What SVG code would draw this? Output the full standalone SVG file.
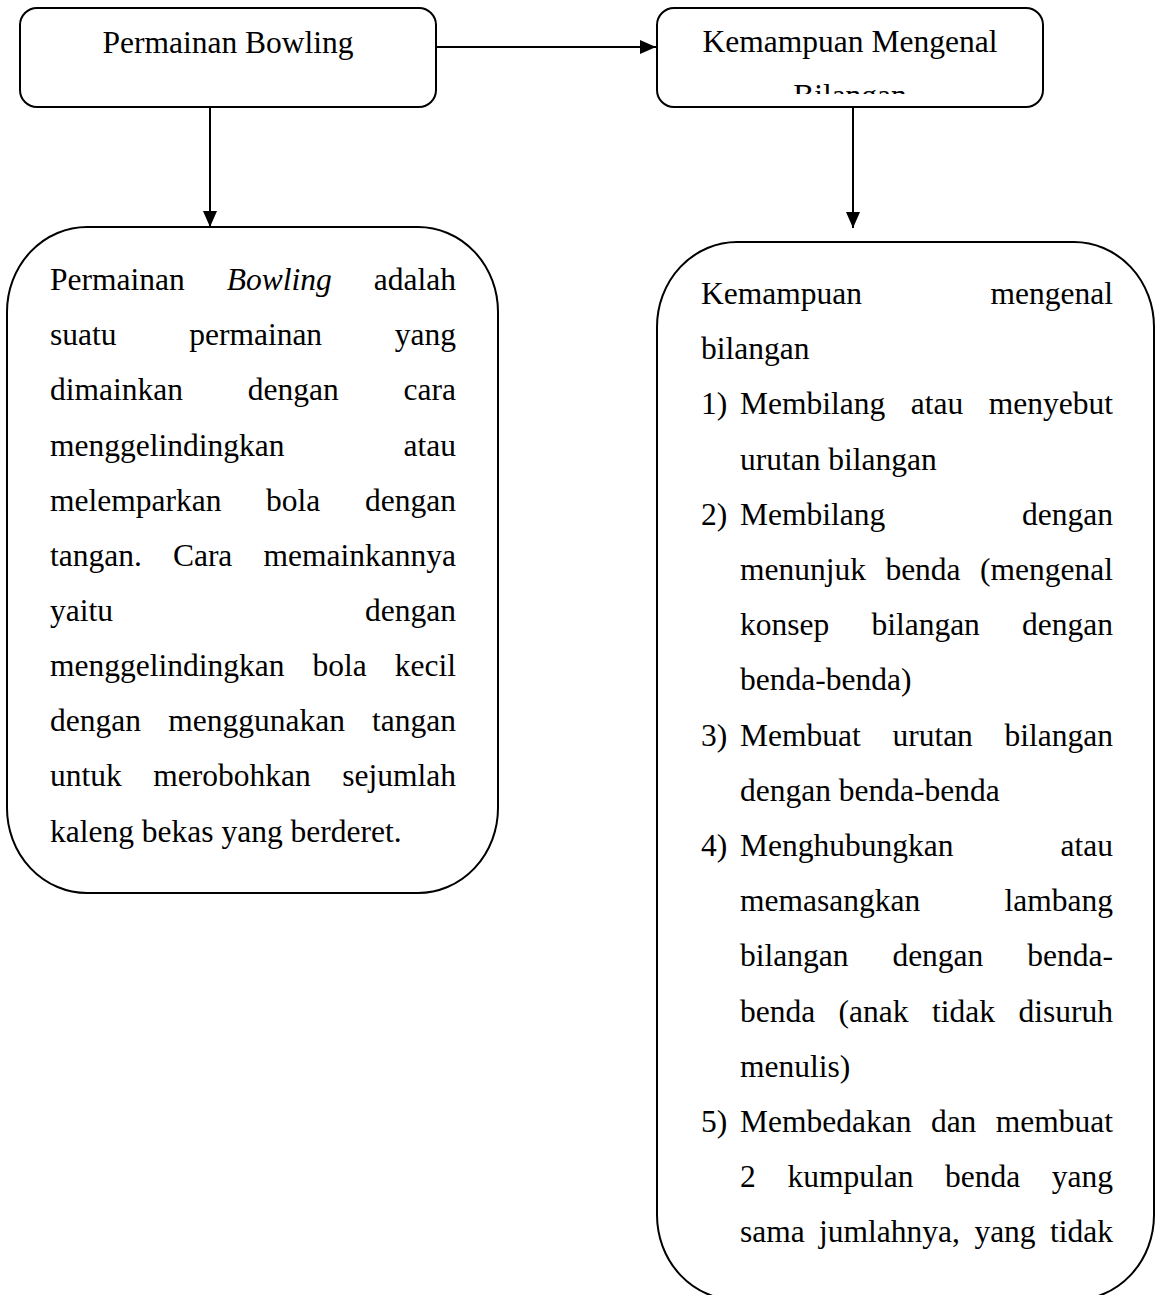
<svg xmlns="http://www.w3.org/2000/svg" width="1156" height="1295" viewBox="0 0 1156 1295">
<style>
.box{fill:#fff;stroke:#000;stroke-width:2}
.t{font-family:"Liberation Serif","Times New Roman",serif;font-size:31.5px;fill:#000}
.e{text-anchor:end}
.m{text-anchor:middle}
.conn{stroke:#000;stroke-width:2;fill:none}
</style>
<defs>
<marker id="ah" markerWidth="16" markerHeight="14" refX="16" refY="7" orient="auto" markerUnits="userSpaceOnUse">
<path d="M0,0 L16,7 L0,14 Z" fill="#000"/>
</marker>
<clipPath id="clipB"><rect x="657" y="8" width="386" height="86"/></clipPath>
</defs>
<rect width="1156" height="1295" fill="#fff"/>

<g id="connectors">
<line class="conn" x1="437" y1="47" x2="656" y2="47" marker-end="url(#ah)"/>
<line class="conn" x1="210" y1="108" x2="210" y2="227" marker-end="url(#ah)"/>
<line class="conn" x1="853" y1="108" x2="853" y2="228" marker-end="url(#ah)"/>
</g>

<g id="node-permainan-bowling">
<rect class="box" x="20" y="8" width="416" height="99" rx="17" ry="17"/>
<text class="t m" x="228" y="53">Permainan Bowling</text>
</g>

<g id="node-kemampuan-mengenal">
<rect class="box" x="657" y="8" width="386" height="99" rx="17" ry="17"/>
<text class="t m" x="850" y="52">Kemampuan Mengenal</text>
<text class="t m" x="850" y="106" clip-path="url(#clipB)">Bilangan</text>
</g>

<g id="node-bowling-desc">
<rect class="box" x="7" y="227" width="491" height="666" rx="80" ry="85"/>
<text class="t" x="50" y="290">Permainan</text><text class="t" x="226.7" y="290" font-style="italic">Bowling</text><text class="t e" x="456" y="290">adalah</text>
<text class="t" x="50" y="345">suatu</text><text class="t" x="189.2" y="345">permainan</text><text class="t e" x="456" y="345">yang</text>
<text class="t" x="50" y="400">dimainkan</text><text class="t" x="247.8" y="400">dengan</text><text class="t e" x="456" y="400">cara</text>
<text class="t" x="50" y="456">menggelindingkan</text><text class="t e" x="456" y="456">atau</text>
<text class="t" x="50" y="511">melemparkan</text><text class="t" x="266.1" y="511">bola</text><text class="t e" x="456" y="511">dengan</text>
<text class="t" x="50" y="566">tangan.</text><text class="t" x="172.9" y="566">Cara</text><text class="t e" x="456" y="566">memainkannya</text>
<text class="t" x="50" y="621">yaitu</text><text class="t e" x="456" y="621">dengan</text>
<text class="t" x="50" y="676">menggelindingkan</text><text class="t" x="312.5" y="676">bola</text><text class="t e" x="456" y="676">kecil</text>
<text class="t" x="50" y="731">dengan</text><text class="t" x="168.2" y="731">menggunakan</text><text class="t e" x="456" y="731">tangan</text>
<text class="t" x="50" y="786">untuk</text><text class="t" x="153.3" y="786">merobohkan</text><text class="t e" x="456" y="786">sejumlah</text>
<text class="t" x="50" y="842">kaleng bekas yang berderet.</text>
</g>

<g id="node-kemampuan-desc">
<rect class="box" x="657" y="242" width="497" height="1058" rx="80" ry="85"/>
<text class="t" x="701" y="304">Kemampuan</text><text class="t e" x="1113" y="304">mengenal</text>
<text class="t" x="701" y="359">bilangan</text>
<text class="t" x="701" y="414">1)</text><text class="t" x="740" y="414">Membilang</text><text class="t" x="910.8" y="414">atau</text><text class="t e" x="1113" y="414">menyebut</text>
<text class="t" x="740" y="470">urutan bilangan</text>
<text class="t" x="701" y="525">2)</text><text class="t" x="740" y="525">Membilang</text><text class="t e" x="1113" y="525">dengan</text>
<text class="t" x="740" y="580">menunjuk</text><text class="t" x="885.4" y="580">benda</text><text class="t e" x="1113" y="580">(mengenal</text>
<text class="t" x="740" y="635">konsep</text><text class="t" x="871.4" y="635">bilangan</text><text class="t e" x="1113" y="635">dengan</text>
<text class="t" x="740" y="690">benda-benda)</text>
<text class="t" x="701" y="746">3)</text><text class="t" x="740" y="746">Membuat</text><text class="t" x="892.4" y="746">urutan</text><text class="t e" x="1113" y="746">bilangan</text>
<text class="t" x="740" y="801">dengan benda-benda</text>
<text class="t" x="701" y="856">4)</text><text class="t" x="740" y="856">Menghubungkan</text><text class="t e" x="1113" y="856">atau</text>
<text class="t" x="740" y="911">memasangkan</text><text class="t e" x="1113" y="911">lambang</text>
<text class="t" x="740" y="966">bilangan</text><text class="t" x="892.4" y="966">dengan</text><text class="t e" x="1113" y="966">benda-</text>
<text class="t" x="740" y="1022">benda</text><text class="t" x="838.6" y="1022">(anak</text><text class="t" x="932" y="1022">tidak</text><text class="t e" x="1113" y="1022">disuruh</text>
<text class="t" x="740" y="1077">menulis)</text>
<text class="t" x="701" y="1132">5)</text><text class="t" x="740" y="1132">Membedakan</text><text class="t" x="930.9" y="1132">dan</text><text class="t e" x="1113" y="1132">membuat</text>
<text class="t" x="740" y="1187">2</text><text class="t" x="787.4" y="1187">kumpulan</text><text class="t" x="945" y="1187">benda</text><text class="t e" x="1113" y="1187">yang</text>
<text class="t" x="740" y="1242">sama</text><text class="t" x="819.1" y="1242">jumlahnya,</text><text class="t" x="974.4" y="1242">yang</text><text class="t e" x="1113" y="1242">tidak</text>
</g>
</svg>
